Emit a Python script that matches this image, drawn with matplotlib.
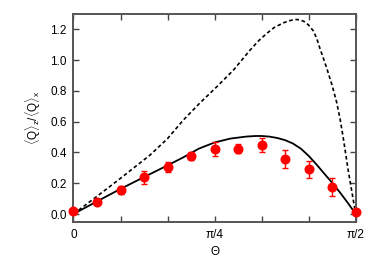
import numpy as np
import matplotlib.pyplot as plt

plt.rcParams['font.family'] = ['Liberation Sans', 'DejaVu Sans']
plt.rcParams['mathtext.fontset'] = 'custom'
plt.rcParams['mathtext.rm'] = 'Liberation Sans'
plt.rcParams['mathtext.it'] = 'Liberation Sans'

# measured points (theta in degrees)
pts_deg = np.array([0, 7.5, 15, 22.5, 30, 37.5, 45, 52.5, 60, 67.5, 75, 82.5, 90])
pts_val = np.array([0.02, 0.08, 0.154, 0.238, 0.305, 0.379, 0.424, 0.424, 0.446, 0.359, 0.292, 0.173, 0.015])
pts_err = np.array([0.01, 0.012, 0.025, 0.04, 0.035, 0.025, 0.045, 0.028, 0.045, 0.058, 0.055, 0.058, 0.01])

# solid theory curve
solid_deg = np.array([0, 7.5, 15, 22.5, 30, 35, 40, 45, 50, 55, 58, 60, 62.5, 65, 67.5, 70, 72.5, 75, 77.5,
                      80, 82.5, 85, 87.5, 90])
solid_val = np.array([0, 0.082, 0.163, 0.24, 0.316, 0.368, 0.425, 0.465, 0.49, 0.503, 0.507, 0.507, 0.503,
                      0.494, 0.48, 0.458, 0.425, 0.378, 0.322, 0.262, 0.203, 0.14, 0.072, 0.0])

# dashed theory curve
dash_deg = np.array([0, 7.5, 15, 24.4, 30, 35, 40, 45.7, 51, 56.3, 59, 61.6, 64, 66.9, 68.8, 70.6, 72, 73.5, 75,
                     76.5, 77.6, 78.6, 79.7, 80.8, 82.5, 83.9, 85, 86, 87.6, 90])
dash_val = np.array([0, 0.115, 0.232, 0.383, 0.49, 0.61, 0.715, 0.827, 0.935, 1.065, 1.125, 1.173, 1.212, 1.242,
                     1.256, 1.264, 1.263, 1.252, 1.228, 1.19, 1.14, 1.076, 1.012, 0.946, 0.835, 0.729, 0.62,
                     0.5, 0.286, 0.0])

fig = plt.figure(figsize=(3.74, 2.61), dpi=100)
ax = fig.add_axes([0.1965, 0.1506, 0.7545, 0.7958])

ax.plot(np.radians(dash_deg), dash_val, color='black', lw=1.2, linestyle=(0, (2.2, 1.6)))
ax.plot(np.radians(solid_deg), solid_val, color='black', lw=1.3)
ax.errorbar(np.radians(pts_deg), pts_val, yerr=pts_err, fmt='o', color='#ff0000', ms=6.2,
            elinewidth=1.0, capsize=2.2, capthick=1.0, clip_on=False, zorder=5)

ax.set_xlim(0, np.pi / 2)
ax.set_ylim(-0.05, 1.3)
ax.set_xticks(np.arange(7) * np.pi / 12)
ax.set_xticklabels(['0', '', '', r'π/4', '', '', r'π/2'])
ax.set_yticks(np.arange(0, 1.21, 0.2))
ax.set_yticklabels(['%.1f' % v for v in np.arange(0, 1.21, 0.2)])
ax.tick_params(direction='in', length=4, width=1.0, color='#444444', labelsize=8.5,
               top=True, right=True, pad=5)
for s in ax.spines.values():
    s.set_color('#555555')
    s.set_linewidth(1.4)

ax.set_xlabel('Θ', fontsize=8.5, labelpad=4)
ax.set_ylabel(r'$\langle$Q$\rangle_z$/$\langle$Q$\rangle_x$', fontsize=8.5, labelpad=5)

fig.savefig('out.png', dpi=100)
